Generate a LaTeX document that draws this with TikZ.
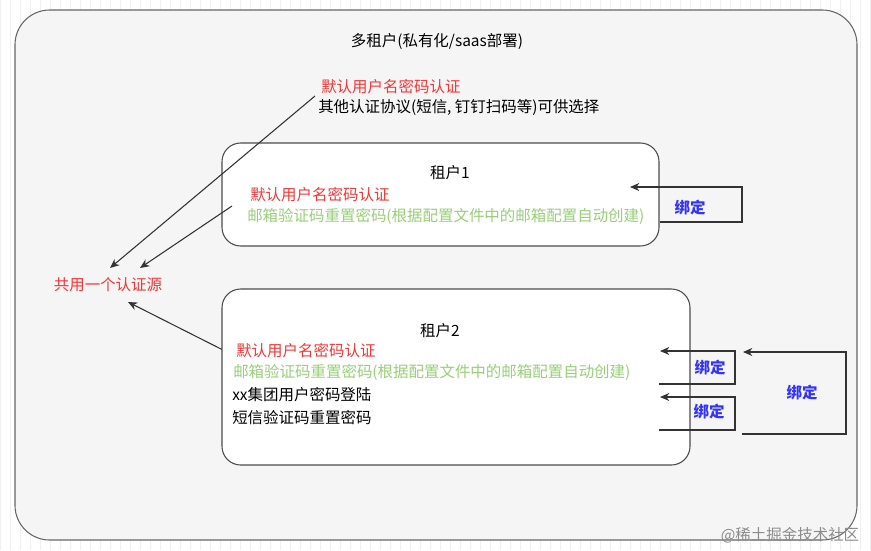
\documentclass[tikz,border=0pt]{standalone}
\usepackage{fontspec}
\setmainfont{Liberation Sans}
\newfontfamily\cjk{Noto Sans CJK SC}
\usetikzlibrary{arrows.meta}
\definecolor{red1}{HTML}{FF3333}
\definecolor{grn1}{HTML}{97D077}
\definecolor{blu1}{HTML}{3333FF}
\begin{document}
\begin{tikzpicture}[x=0.75pt,y=-0.75pt,font=\cjk\fontsize{11.6}{13}\selectfont,
  lbl/.style={inner sep=0pt,anchor=west},
  con/.style={draw=black!80,line width=0.8pt,-{Stealth[length=7pt,width=6pt]}},
  bind/.style={text=blu1,font=\cjk\bfseries\fontsize{11.6}{13}\selectfont,inner sep=0pt},
  tbox/.style={draw=black!70,fill=white,line width=0.8pt,rounded corners=14pt}]
\useasboundingbox (0,0) rectangle (871,550);
\fill[white] (0,0) rectangle (871,550);
\draw[black!6,step=10] (0,0) grid (871,550);
\draw[draw=black!60,fill=black!4,line width=0.8pt,rounded corners=26pt] (15,10) rectangle (857,540);
\node (title) at (437,41) {多租户(私有化/saas部署)};
\node[lbl,text=red1] (g1) at (321,87) {默认用户名密码认证};
\node[lbl] (g2) at (318,107) {其他认证协议(短信, 钉钉扫码等)可供选择};
\draw[tbox] (222,143) rectangle (659,246);
\node (t1) at (450,173) {租户1};
\node[lbl,text=red1] (t1a) at (250,195) {默认用户名密码认证};
\node[lbl,text=grn1] (t1b) at (247,216) {邮箱验证码重置密码(根据配置文件中的邮箱配置自动创建)};
\node[text=red1] (src) at (108,285) {共用一个认证源};
\coordinate (s1) at (110,268);
\coordinate (s2) at (140,268);
\coordinate (s3) at (128,302);
\coordinate (f1) at (315,96);
\coordinate (f2) at (232,206);
\coordinate (f3) at (223,350);
\draw[con] (f1) -- (s1);
\draw[con] (f2) -- (s2);
\draw[con] (f3) -- (s3);
\draw[tbox] (222,289) rectangle (690,465);
\node (t2) at (440,331) {租户2};
\node[lbl,text=red1] (t2a) at (236,351) {默认用户名密码认证};
\node[lbl,text=grn1] (t2b) at (233,372) {邮箱验证码重置密码(根据配置文件中的邮箱配置自动创建)};
\node[lbl] (t2c) at (232,395) {xx集团用户密码登陆};
\node[lbl] (t2d) at (232,418) {短信验证码重置密码};
% bindings
\coordinate (b1s) at (660,222); \coordinate (b1e) at (630,187);
\draw[con] (b1s) -- (742,222) -- (742,187) -- (b1e);
\node[bind] (b1) at (690,208) {绑定};
\coordinate (b2s) at (659,384); \coordinate (b2e) at (660,351);
\draw[con] (b2s) -- (735,384) -- (735,351) -- (b2e);
\node[bind] (b2) at (710,368) {绑定};
\coordinate (b3s) at (659,430); \coordinate (b3e) at (660,397);
\draw[con] (b3s) -- (735,430) -- (735,397) -- (b3e);
\node[bind] (b3) at (709,412) {绑定};
\coordinate (b4s) at (742,434); \coordinate (b4e) at (743,352);
\draw[con] (b4s) -- (846,434) -- (846,352) -- (b4e);
\node[bind] (b4) at (802,393) {绑定};
\node[text=black!45] (wm) at (790,535) {@稀土掘金技术社区};
\end{tikzpicture}
\end{document}
